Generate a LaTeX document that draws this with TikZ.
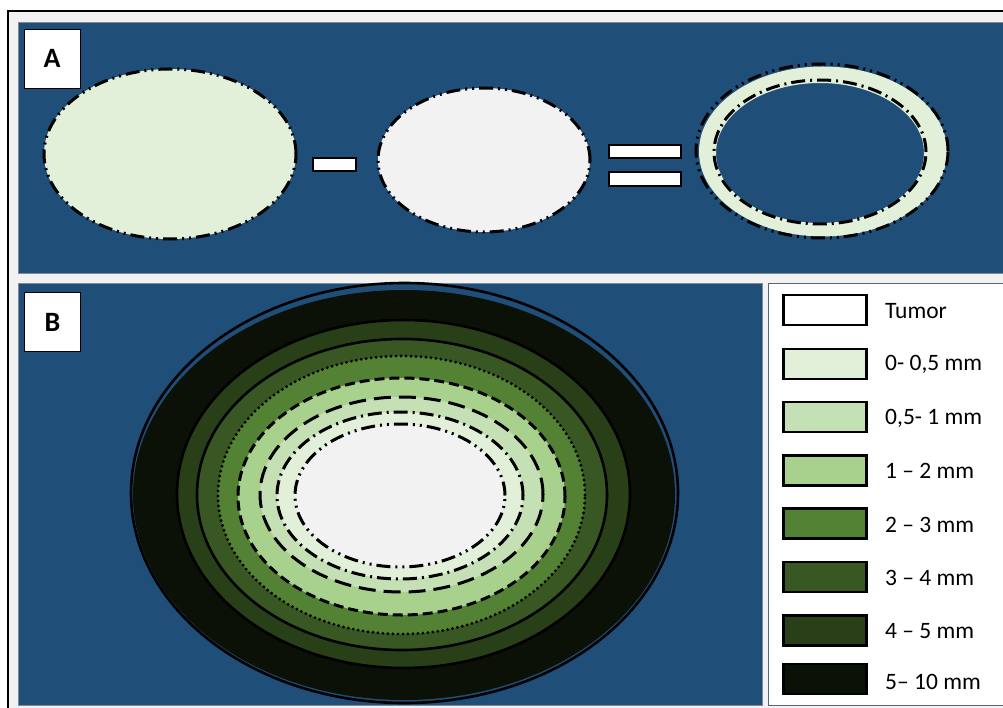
\documentclass[tikz,border=0pt]{standalone}
\usepackage{fontspec}
\setmainfont{Carlito}
\definecolor{panelblue}{HTML}{1F4E79}
\definecolor{panelborder}{HTML}{7F8A96}
\definecolor{bggray}{HTML}{F2F2F2}
\definecolor{legborder}{HTML}{56657A}
\definecolor{czero}{HTML}{E2F0D9}
\definecolor{cone}{HTML}{C5E0B4}
\definecolor{ctwo}{HTML}{A9D18E}
\definecolor{cthree}{HTML}{548235}
\definecolor{cfour}{HTML}{385723}
\definecolor{cfive}{HTML}{283F18}
\definecolor{csix}{HTML}{0C1108}
\definecolor{ctumor}{HTML}{F2F2F2}
\begin{document}
\begin{tikzpicture}[x=1pt,y=-1pt,
  panel/.style={fill=panelblue,draw=panelborder,line width=1pt},
  labelbox/.style={draw=black,fill=white,line width=0.9pt,minimum width=56pt,minimum height=59pt,inner sep=0pt,font=\fontsize{28}{30}\selectfont\bfseries},
  opbar/.style={draw=black,fill=white,line width=2.2pt},
  ddotline/.style={black,line width=3pt,dash pattern=on 14pt off 5pt on 2pt off 5pt on 2pt off 5pt},
  dotline/.style={black,line width=3pt,dash pattern=on 14pt off 5pt on 2pt off 5pt},
  longdash/.style={black,line width=3pt,dash pattern=on 17pt off 8pt},
  shortdash/.style={black,line width=3pt,dash pattern=on 10pt off 5pt},
  dotsline/.style={black,line width=3.2pt,line cap=round,dash pattern=on 0pt off 5pt},
  solidline/.style={black,line width=2.6pt},
  swatch/.style={draw=black,line width=2.4pt,minimum width=83pt,minimum height=30pt,inner sep=0pt},
  legtext/.style={anchor=west,inner sep=0pt,font=\fontsize{23.5}{26}\selectfont}]
\useasboundingbox (0,0) rectangle (1003,708);
\begin{scope}
\clip (0,0) rectangle (1003,708);
\fill[white] (0,0) rectangle (1003,708);
\draw[line width=2.4pt,fill=bggray] (8,11) rectangle (1030,730);
% Panel A
\draw[panel] (18,23) rectangle (1030,274);
\node[labelbox] (labA) at (52,58.5) {A};
\fill[czero] (170,154) ellipse [x radius=126pt,y radius=85pt];
\draw[ddotline] (170,154) ellipse [x radius=126pt,y radius=85pt];
\draw[opbar] (313,158) rectangle (356,171);
\fill[ctumor] (484,160) ellipse [x radius=106pt,y radius=72pt];
\draw[ddotline] (484,160) ellipse [x radius=106pt,y radius=72pt];
\draw[opbar] (609,145) rectangle (681,158);
\draw[opbar] (609,172) rectangle (681,186);
\fill[czero,even odd rule] (823,151.5) ellipse [x radius=124pt,y radius=85pt]
   (820,153) ellipse [x radius=104pt,y radius=70pt];
\draw[ddotline] (822,151) ellipse [x radius=126pt,y radius=87pt];
\draw[dotline] (820,152) ellipse [x radius=106pt,y radius=72pt];
% Panel B
\draw[panel] (18,284) rectangle (762,705);
\node[labelbox] (labB) at (52.5,322) {B};
\fill[csix] (404,495) ellipse [x radius=271pt,y radius=205pt];
\fill[cfive] (403.5,494) ellipse [x radius=226.5pt,y radius=174pt];
\fill[cfour] (402,494.5) ellipse [x radius=205pt,y radius=155.5pt];
\fill[cthree] (401.5,495) ellipse [x radius=183.5pt,y radius=139pt];
\fill[ctwo] (401.5,496.5) ellipse [x radius=163.5pt,y radius=118.5pt];
\fill[cone] (401.5,494.5) ellipse [x radius=141.5pt,y radius=97.5pt];
\fill[czero] (400,495.5) ellipse [x radius=123pt,y radius=83.5pt];
\fill[ctumor] (400,495.5) ellipse [x radius=105pt,y radius=71.5pt];
\draw[solidline] (404.5,493) ellipse [x radius=273.5pt,y radius=210pt];
\draw[solidline] (403.5,494) ellipse [x radius=226.5pt,y radius=174pt];
\draw[solidline] (402,494.5) ellipse [x radius=205pt,y radius=155.5pt];
\draw[dotsline] (401.5,495) ellipse [x radius=183.5pt,y radius=139pt];
\draw[shortdash] (401.5,496.5) ellipse [x radius=163.5pt,y radius=118.5pt];
\draw[longdash] (401.5,494.5) ellipse [x radius=141.5pt,y radius=97.5pt];
\draw[dotline] (400,495.5) ellipse [x radius=123pt,y radius=83.5pt];
\draw[ddotline] (400,495.5) ellipse [x radius=105pt,y radius=71.5pt];
% Legend
\draw[draw=legborder,fill=white,line width=1pt] (768,284) rectangle (1030,705);
\node[swatch,fill=white] (sw0) at (825,310) {};
\node[legtext] (tx0) at (885,311) {Tumor};
\node[swatch,fill=czero] (sw1) at (825,363.7) {};
\node[legtext] (tx1) at (885,364.7) {0- 0,5 mm};
\node[swatch,fill=cone] (sw2) at (825,417) {};
\node[legtext] (tx2) at (885,418) {0,5- 1 mm};
\node[swatch,fill=ctwo] (sw3) at (825,470.3) {};
\node[legtext] (tx3) at (885,471.3) {1 – 2 mm};
\node[swatch,fill=cthree] (sw4) at (825,523.6) {};
\node[legtext] (tx4) at (885,524.6) {2 – 3 mm};
\node[swatch,fill=cfour] (sw5) at (825,577) {};
\node[legtext] (tx5) at (885,578) {3 – 4 mm};
\node[swatch,fill=cfive] (sw6) at (825,630.3) {};
\node[legtext] (tx6) at (885,631.3) {4 – 5 mm};
\node[swatch,fill=csix] (sw7) at (825,679.2) {};
\node[legtext] (tx7) at (885,682) {5– 10 mm};
\end{scope}
\end{tikzpicture}
\end{document}
